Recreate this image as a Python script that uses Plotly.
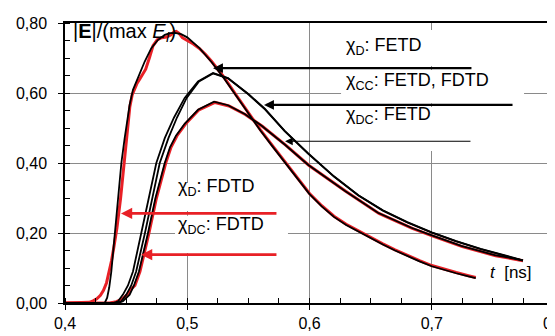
import plotly.graph_objects as go

# ---------------- data ----------------
t_d_fetd = [0.4000, 0.4325, 0.4345, 0.4362, 0.4379, 0.4393, 0.4407, 0.4434, 0.4461, 0.4488,
            0.4510, 0.4529, 0.4556, 0.4597, 0.4652, 0.4706, 0.4761, 0.4816, 0.4860, 0.4900,
            0.4950, 0.5000, 0.5100, 0.5200, 0.5300, 0.5400, 0.5500, 0.5600, 0.5700, 0.5800,
            0.5900, 0.6000, 0.6100, 0.6200, 0.6300, 0.6400, 0.6500, 0.6600, 0.6700, 0.6800,
            0.6900, 0.7000, 0.7100, 0.7200, 0.7300, 0.7360]
e_d_fetd = [0.000, 0.000, 0.015, 0.045, 0.090, 0.145, 0.200, 0.300, 0.400, 0.471,
            0.525, 0.567, 0.609, 0.645, 0.690, 0.728, 0.752, 0.766, 0.771, 0.772,
            0.768, 0.759, 0.728, 0.688, 0.642, 0.592, 0.541, 0.492, 0.446, 0.401,
            0.355, 0.311, 0.276, 0.246, 0.223, 0.204, 0.185, 0.167, 0.150, 0.134,
            0.119, 0.105, 0.094, 0.085, 0.076, 0.071]

t_d_fdtd = [0.4000, 0.4164, 0.4200, 0.4230, 0.4260, 0.4290, 0.4315, 0.4340, 0.4360, 0.4380,
            0.4400, 0.4425, 0.4455, 0.4482, 0.4508, 0.4530, 0.4550, 0.4570, 0.4590, 0.4612,
            0.4635, 0.4660, 0.4690, 0.4720, 0.4755, 0.4790, 0.4830, 0.4865, 0.4890, 0.4910,
            0.4935, 0.4960, 0.5000, 0.5050, 0.5100, 0.5150, 0.5200, 0.5250, 0.5300, 0.5400,
            0.5500, 0.5600, 0.5700, 0.5800, 0.5900, 0.6000, 0.6100, 0.6200, 0.6300, 0.6400,
            0.6500, 0.6600, 0.6700, 0.6800, 0.6900, 0.7000, 0.7100, 0.7200, 0.7300, 0.7360]
e_d_fdtd = [0.000, 0.000, 0.002, 0.006, 0.012, 0.022, 0.036, 0.058, 0.085, 0.120,
            0.160, 0.215, 0.300, 0.400, 0.480, 0.560, 0.595, 0.612, 0.628, 0.640,
            0.652, 0.668, 0.700, 0.735, 0.752, 0.758, 0.760, 0.766, 0.774, 0.776,
            0.770, 0.758, 0.750, 0.740, 0.727, 0.710, 0.690, 0.668, 0.645, 0.594,
            0.543, 0.494, 0.448, 0.403, 0.357, 0.313, 0.278, 0.248, 0.225, 0.206,
            0.187, 0.169, 0.152, 0.136, 0.121, 0.107, 0.096, 0.087, 0.078, 0.073]

t_cc_fetd = [0.4000, 0.4393, 0.4434, 0.4474, 0.4515, 0.4556, 0.4624, 0.4683, 0.4747, 0.4816,
             0.4892, 0.4979, 0.5088, 0.5211, 0.5333, 0.5497, 0.5634, 0.5797, 0.5988, 0.6200,
             0.6400, 0.6600, 0.6800, 0.7000, 0.7200, 0.7400, 0.7600, 0.7746]
e_cc_fetd = [0.000, 0.000, 0.005, 0.024, 0.050, 0.090, 0.200, 0.300, 0.400, 0.471,
             0.530, 0.586, 0.633, 0.657, 0.643, 0.598, 0.555, 0.492, 0.428, 0.362,
             0.308, 0.265, 0.231, 0.202, 0.177, 0.155, 0.135, 0.122]

t_cc_fdtd = [0.4000, 0.4420, 0.4460, 0.4502, 0.4542, 0.4582, 0.4654, 0.4712, 0.4775, 0.4846,
             0.4916, 0.4995, 0.5096, 0.5211, 0.5333, 0.5497, 0.5634, 0.5797, 0.5988, 0.6200,
             0.6400, 0.6600, 0.6800, 0.7000, 0.7200, 0.7400, 0.7600, 0.7746]
e_cc_fdtd = [0.000, 0.000, 0.005, 0.024, 0.050, 0.090, 0.200, 0.300, 0.400, 0.471,
             0.530, 0.586, 0.633, 0.656, 0.642, 0.597, 0.554, 0.491, 0.427, 0.361,
             0.307, 0.264, 0.230, 0.201, 0.176, 0.154, 0.134, 0.121]

t_dc_fetd = [0.4000, 0.4434, 0.4474, 0.4529, 0.4564, 0.4605, 0.4679, 0.4740, 0.4816, 0.4859,
             0.4908, 0.4979, 0.5088, 0.5219, 0.5333, 0.5470, 0.5606, 0.5797, 0.5988, 0.6124,
             0.6288, 0.6560, 0.6833, 0.6996, 0.7242, 0.7515, 0.7746]
e_dc_fetd = [0.000, 0.000, 0.005, 0.024, 0.050, 0.090, 0.200, 0.300, 0.400, 0.445,
             0.478, 0.512, 0.552, 0.575, 0.565, 0.540, 0.507, 0.453, 0.395, 0.362,
             0.321, 0.258, 0.215, 0.194, 0.163, 0.137, 0.122]

t_dc_fdtd = [0.4000, 0.4365, 0.4420, 0.4470, 0.4510, 0.4542, 0.4572, 0.4613, 0.4687, 0.4748,
             0.4824, 0.4867, 0.4916, 0.4987, 0.5096, 0.5227, 0.5341, 0.5478, 0.5614, 0.5805,
             0.5996, 0.6132, 0.6296, 0.6568, 0.6841, 0.7004, 0.7250, 0.7523, 0.7746]
e_dc_fdtd = [0.000, 0.000, 0.004, 0.012, 0.025, 0.040, 0.050, 0.090, 0.200, 0.300,
             0.400, 0.445, 0.478, 0.512, 0.552, 0.573, 0.563, 0.538, 0.505, 0.451,
             0.393, 0.360, 0.319, 0.256, 0.213, 0.192, 0.161, 0.135, 0.121]

x_tickvals = [0.4, 0.5, 0.6, 0.7, 0.8]
x_ticktext = ["0,4", "0,5", "0,6", "0,7", "0,8"]
y_tickvals = [0.0, 0.2, 0.4, 0.6, 0.8]
y_ticktext = ["0,00", "0,20", "0,40", "0,60", "0,80"]

# ---------------- styling ----------------
RED = "rgb(232,32,38)"
FONT = "Liberation Sans, Arial, sans-serif"

fig = go.Figure()

def add(x, y, color, width):
    fig.add_trace(go.Scatter(x=x, y=y, mode="lines",
                             line=dict(color=color, width=width, shape="linear"),
                             hoverinfo="skip", showlegend=False))

add(t_d_fdtd, e_d_fdtd, RED, 3)
add(t_dc_fdtd, e_dc_fdtd, RED, 3)
add(t_d_fetd, e_d_fetd, "black", 1.8)
add(t_cc_fetd, e_cc_fetd, "black", 1.8)
add(t_cc_fdtd, e_cc_fdtd, "black", 1.8)
add(t_dc_fetd, e_dc_fetd, "black", 1.8)

# white boxes behind labels (hide gridlines)
boxes = [(0.6258, 0.7378, 0.677, 0.780),
         (0.6258, 0.7755, 0.571, 0.666),
         (0.6258, 0.7378, 0.434, 0.560),
         (0.4900, 0.5824, 0.263, 0.343),
         (0.4900, 0.5824, 0.143, 0.249)]
for x0, x1, y0, y1 in boxes:
    fig.add_shape(type="rect", xref="x", yref="y", x0=x0, x1=x1, y0=y0, y1=y1,
                  fillcolor="white", line=dict(width=0), layer="between")

# small bracket marks at right border
for yy in [0.103, 0.043]:
    fig.add_shape(type="line", xref="x", yref="y", x0=0.7963, x1=0.8008, y0=yy, y1=yy,
                  line=dict(color="black", width=2), layer="above")

ann = []
def label(text, x, y, size=18, anchor="left"):
    ann.append(dict(text=text, x=x, y=y, xref="x", yref="y", xanchor=anchor, yanchor="middle",
                    showarrow=False, font=dict(family=FONT, size=size, color="black")))

def arrow(x, y, ax, color, width, size):
    ann.append(dict(text="", x=x, y=y, ax=ax, ay=y, xref="x", yref="y", axref="x", ayref="y",
                    showarrow=True, arrowhead=2, arrowsize=size, arrowwidth=width,
                    arrowcolor=color, standoff=0, startstandoff=0))

label("|<b>E</b>|/(max <i>E</i><sub><i>I</i></sub>)", 0.4045, 0.772, size=20)
label("χ<sub>D</sub>: FETD", 0.6279, 0.734)
label("χ<sub>CC</sub>: FETD, FDTD", 0.6279, 0.633)
label("χ<sub>DC</sub>: FETD", 0.6279, 0.537)
label("χ<sub>D</sub>: FDTD", 0.4909, 0.330)
label("χ<sub>DC</sub>: FDTD", 0.4909, 0.222)
label("<i>t</i>\u00a0 [ns]", 0.7837, 0.088, size=17, anchor="right")

arrow(0.5211, 0.671, 0.7337, "black", 2.2, 0.9)
arrow(0.5628, 0.566, 0.7673, "black", 2.2, 0.9)
arrow(0.5800, 0.462, 0.7329, "black", 1.1, 1.4)
arrow(0.4458, 0.256, 0.5742, RED, 2.8, 0.8)
arrow(0.4622, 0.138, 0.5742, RED, 2.8, 0.8)

axis_common = dict(showline=True, linecolor="black", linewidth=1.5, mirror=True,
                   ticks="outside", ticklen=5, tickcolor="black", tickwidth=1,
                   showgrid=True, gridcolor="#8a8a8a", gridwidth=1, zeroline=False,
                   automargin=False, ticklabeloverflow="allow",
                   tickfont=dict(family=FONT, size=16, color="black"))

fig.update_layout(
    width=555, height=336,
    margin=dict(l=57, r=9, t=15, b=41),
    paper_bgcolor="white", plot_bgcolor="white",
    template="none",
    showlegend=False,
    annotations=ann,
    xaxis=dict(range=[0.4, 0.8], tickvals=x_tickvals, ticktext=x_ticktext,
               minor=dict(ticks="inside", dtick=0.025, tick0=0.4, ticklen=5, tickcolor="black", showgrid=False),
               **axis_common),
    yaxis=dict(range=[0, 0.8], tickvals=y_tickvals, ticktext=y_ticktext, ticklabelstandoff=8,
               minor=dict(ticks="inside", dtick=0.05, tick0=0, ticklen=5, tickcolor="black", showgrid=False),
               **axis_common),
)

fig.write_html("out.html")
